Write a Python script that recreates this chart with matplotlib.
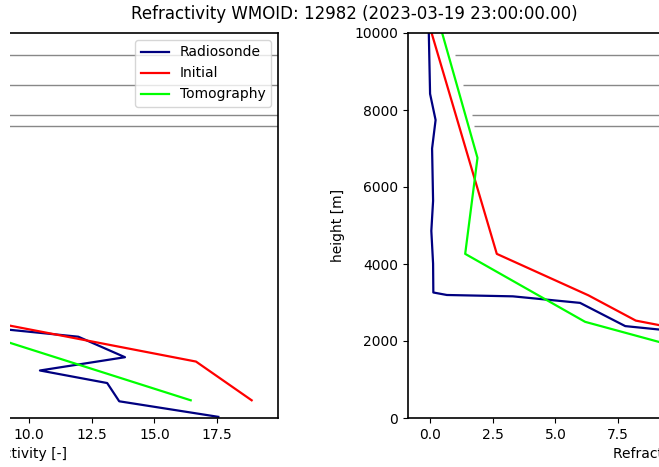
import matplotlib
matplotlib.use("Agg")
import matplotlib.pyplot as plt
from matplotlib.patches import Rectangle

W, H = 659, 467

title = "Refractivity WMOID: 12982 (2023-03-19 23:00:00.00)"
labels = ["Radiosonde", "Initial", "Tomography"]
colors = ["navy", "red", "lime"]

radiosonde_x = [-0.05, 0.0, 0.22, 0.08, 0.12, 0.05, 0.12, 0.13, 0.67, 3.3, 5.98,
                7.78, 11.97, 13.83, 10.44, 13.12, 13.60, 17.55]
radiosonde_h = [9980, 8420, 7740, 7000, 5640, 4860, 4010, 3260, 3195, 3160, 2990,
                2387, 2111, 1579, 1234, 908, 434, 30]
initial_x = [0.07, 2.66, 6.31, 8.2, 16.66, 18.88]
initial_h = [9980, 4263, 3187, 2530, 1466, 460]
tomo_x = [0.49, 1.89, 1.40, 6.18, 9.16, 16.45]
tomo_h = [9980, 6757, 4263, 2498, 1970, 460]

# faint horizontal reference lines seen across the panels
ref_h = [9430, 8660, 7860, 7577]
ref_start = [1.0, 1.3, 1.68, 1.76]

fig = plt.figure(figsize=(W / 100, H / 100), dpi=100)

def px_axes(left, right, top, bottom):
    return fig.add_axes([left / W, (H - bottom) / H, (right - left) / W, (bottom - top) / H])

axL = px_axes(-244, 278, 33, 418)
axR = px_axes(408, 930, 33, 418)

series = [(radiosonde_x, radiosonde_h), (initial_x, initial_h), (tomo_x, tomo_h)]

XMIN, XMAX = -0.88, 19.93

for ax in (axL, axR):
    for (xs, hs), lab, c in zip(series, labels, colors):
        ax.plot(xs, hs, color=c, lw=1.6, label=lab)
    ax.set_ylim(0, 10000)
    ax.set_xlim(XMIN, XMAX)
    ax.set_xlabel("Refractivity [-]")
    ax.set_ylabel("height [m]", labelpad=7)
    for s in ax.spines.values():
        s.set_linewidth(1.2)

axL.xaxis.set_label_coords(0.5, -0.075)
axR.xaxis.set_label_coords(0.489, -0.075)

for h in ref_h:
    axL.axhline(h, color="#888888", lw=1.0, zorder=0)
for h, xs in zip(ref_h, ref_start):
    axR.hlines(h, xs, XMAX, color="#888888", lw=1.0, zorder=0)

axL.legend(loc="upper right")

fig.text(354 / W, 1 - 14 / H, title, ha="center", va="center", fontsize=12)

fig.add_artist(Rectangle((0, 0), 10 / W, 1 - 30 / H, transform=fig.transFigure,
                         facecolor="white", edgecolor="none", zorder=100))

fig.savefig("out.png", dpi=100)
